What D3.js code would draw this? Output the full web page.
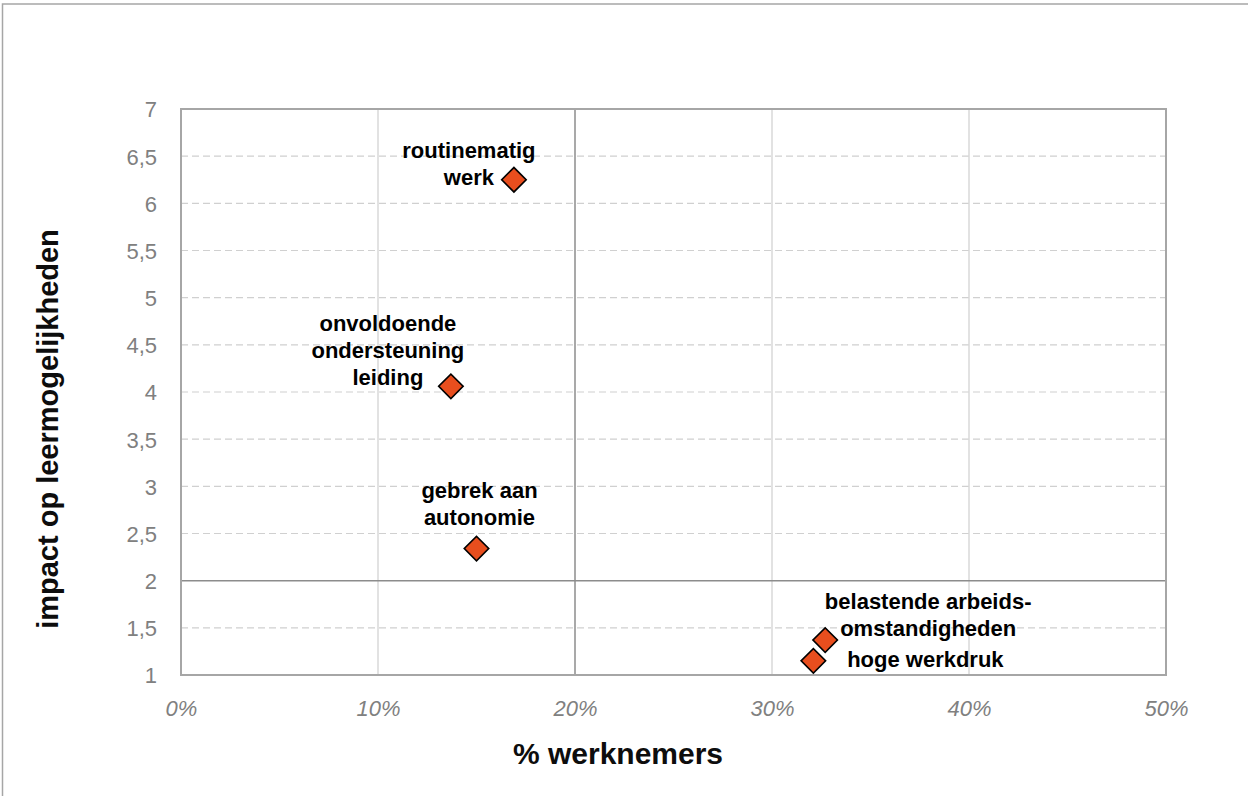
<!DOCTYPE html>
<html>
<head>
<meta charset="utf-8">
<script src="https://cdn.jsdelivr.net/npm/d3@7"></script>
<style>
  html, body { margin: 0; padding: 0; background: #fff; }
  svg { display: block; font-family: "Liberation Sans", Arial, sans-serif; }
</style>
</head>
<body>
<svg id="chart" width="1248" height="796"></svg>
<script>
// ---- data ----
const pointNames = ["routinematig werk", "onvoldoende ondersteuning leiding", "gebrek aan autonomie", "belastende arbeidsomstandigheden", "hoge werkdruk"];
const pctWorkers = [16.9, 13.7, 15.0, 32.7, 32.1];
const impactValues = [6.25, 4.06, 2.34, 1.37, 1.15];
const labelLines = [
  ["routinematig", "werk"],
  ["onvoldoende", "ondersteuning", "leiding"],
  ["gebrek aan", "autonomie"],
  ["belastende arbeids-", "omstandigheden"],
  ["hoge werkdruk"]
];
const xTickValues = [0, 10, 20, 30, 40, 50];
const yTickValues = [1, 1.5, 2, 2.5, 3, 3.5, 4, 4.5, 5, 5.5, 6, 6.5, 7];
const xTitle = "% werknemers";
const yTitle = "impact op leermogelijkheden";

// ---- label layout (pixel offsets of label block relative to marker) ----
const labelLayout = [
  { dx: -45, lastBaseline: 5 },
  { dx: -63, lastBaseline: -1 },
  { dx: 3, lastBaseline: -24 },
  { dx: 103, lastBaseline: -4 },
  { dx: 112, lastBaseline: 6 }
];

const svg = d3.select("#chart");
const W = 1248, H = 796;
const plot = { left: 181, right: 1166, top: 109, bottom: 675 };

// outer frame
svg.append("rect")
  .attr("x", 2.5).attr("y", 4).attr("width", W + 20).attr("height", H + 20)
  .attr("fill", "#fff").attr("stroke", "#a6a6a6").attr("stroke-width", 1.5);

const x = d3.scaleLinear().domain([0, 50]).range([plot.left, plot.right]);
const y = d3.scaleLinear().domain([1, 7]).range([plot.bottom, plot.top]);

// horizontal dashed gridlines
svg.append("g").selectAll("line")
  .data(yTickValues.filter(v => v !== 1 && v !== 7 && v !== 2))
  .join("line")
  .attr("x1", plot.left).attr("x2", plot.right)
  .attr("y1", d => y(d)).attr("y2", d => y(d))
  .attr("stroke", "#d0d0d0").attr("stroke-width", 1.2)
  .attr("stroke-dasharray", "7,4");

// vertical solid gridlines
svg.append("g").selectAll("line")
  .data(xTickValues.filter(v => v !== 0 && v !== 50 && v !== 20))
  .join("line")
  .attr("x1", d => x(d)).attr("x2", d => x(d))
  .attr("y1", plot.top).attr("y2", plot.bottom)
  .attr("stroke", "#d9d9d9").attr("stroke-width", 1.5);

// quadrant lines
svg.append("line")
  .attr("x1", x(20)).attr("x2", x(20)).attr("y1", plot.top).attr("y2", plot.bottom)
  .attr("stroke", "#8c8c8c").attr("stroke-width", 1.5);
svg.append("line")
  .attr("x1", plot.left).attr("x2", plot.right).attr("y1", y(2)).attr("y2", y(2))
  .attr("stroke", "#8c8c8c").attr("stroke-width", 1.5);

// plot border
svg.append("rect")
  .attr("x", plot.left).attr("y", plot.top)
  .attr("width", plot.right - plot.left).attr("height", plot.bottom - plot.top)
  .attr("fill", "none").attr("stroke", "#a6a6a6").attr("stroke-width", 2);

// axes (ticks only as labels)
const fmtComma = d3.formatLocale({ decimal: ",", thousands: ".", grouping: [3], currency: ["€", ""] }).format("~g");
const yAxis = d3.axisLeft(y).tickValues(yTickValues).tickSize(0).tickPadding(24).tickFormat(d => fmtComma(d));
const gy = svg.append("g").attr("transform", `translate(${plot.left},0)`).call(yAxis);
gy.select(".domain").remove();
gy.selectAll("text").attr("fill", "#808080").style("font-size", "22px").attr("dy", "0.36em");

const xAxis = d3.axisBottom(x).tickValues(xTickValues).tickSize(0).tickPadding(25).tickFormat(d => d + "%");
const gx = svg.append("g").attr("transform", `translate(0,${plot.bottom})`).call(xAxis);
gx.select(".domain").remove();
gx.selectAll("text").attr("fill", "#808080").style("font-size", "22px").style("font-style", "italic");

// axis titles
svg.append("text")
  .attr("x", 618).attr("y", 764)
  .attr("text-anchor", "middle")
  .style("font-size", "30px").style("font-weight", "bold").attr("fill", "#0d0d0d")
  .text(xTitle);
svg.append("text")
  .attr("transform", "translate(58,429) rotate(-90)")
  .attr("text-anchor", "middle")
  .style("font-size", "29px").style("font-weight", "bold").attr("fill", "#0d0d0d")
  .text(yTitle);

// data
const pts = pointNames.map((n, i) => ({ name: n, x: pctWorkers[i], y: impactValues[i], lines: labelLines[i], lay: labelLayout[i] }));

// labels
const lineH = 27;
const lg = svg.append("g");
pts.forEach(p => {
  const cx = x(p.x) + p.lay.dx;
  const lastY = y(p.y) + p.lay.lastBaseline;
  const n = p.lines.length;
  p.lines.forEach((ln, j) => {
    lg.append("text")
      .attr("x", cx).attr("y", lastY - (n - 1 - j) * lineH)
      .attr("text-anchor", "middle")
      .style("font-size", "22px").style("font-weight", "bold").attr("fill", "#000")
      .text(ln);
  });
});

// markers
const sym = d3.symbol().type(d3.symbolSquare).size(300);
svg.append("g").selectAll("path")
  .data(pts)
  .join("path")
  .attr("d", sym)
  .attr("transform", d => `translate(${x(d.x)},${y(d.y)}) rotate(45)`)
  .attr("fill", "#e84e1e").attr("stroke", "#000").attr("stroke-width", 1.6);
</script>
</body>
</html>
